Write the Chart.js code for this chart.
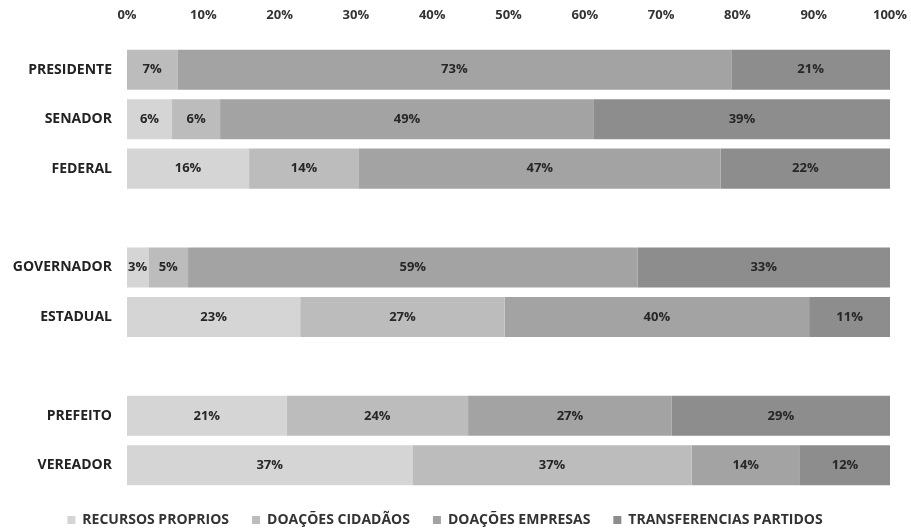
<!DOCTYPE html>
<html>
<head>
<meta charset="utf-8">
<script src="https://cdn.jsdelivr.net/npm/chart.js@4.4.1/dist/chart.umd.min.js"></script>
<style>
  html, body { margin: 0; padding: 0; background: #ffffff; }
  #wrap { width: 911px; height: 532px; }
</style>
</head>
<body>
<div id="wrap"><canvas id="c" width="911" height="532"></canvas></div>
<script>
const categories = ['PRESIDENTE', 'SENADOR', 'FEDERAL', '', 'GOVERNADOR', 'ESTADUAL', '', 'PREFEITO', 'VEREADOR'];
const seriesNames = ['RECURSOS PROPRIOS', 'DOAÇÕES CIDADÃOS', 'DOAÇÕES EMPRESAS', 'TRANSFERENCIAS PARTIDOS'];
const recursosProprios      = [0,    5.9,  16.0, null, 2.8,  22.7, null, 20.9, 37.4];
const doacoesCidadaos       = [6.6,  6.3,  14.4, null, 5.2,  26.8, null, 23.8, 36.6];
const doacoesEmpresas       = [72.6, 49.0, 47.4, null, 58.9, 39.9, null, 26.7, 14.2];
const transferenciasPartidos= [20.8, 38.8, 22.2, null, 33.1, 10.6, null, 28.6, 11.8];
const xTicks = [0, 10, 20, 30, 40, 50, 60, 70, 80, 90, 100];
const colors = ['#d5d5d5', '#bcbcbc', '#a3a3a3', '#8d8d8d'];

const FONT = '"Open Sans", "Liberation Sans", sans-serif';

const valueLabels = {
  id: 'valueLabels',
  afterDatasetsDraw(chart) {
    const ctx = chart.ctx;
    ctx.save();
    ctx.font = 'bold 13px ' + FONT;
    ctx.fillStyle = '#262626';
    ctx.textAlign = 'center';
    ctx.textBaseline = 'middle';
    chart.data.datasets.forEach((ds, di) => {
      const meta = chart.getDatasetMeta(di);
      meta.data.forEach((el, i) => {
        const v = ds.data[i];
        if (v === null || v === undefined || v <= 0) return;
        const p = el.getProps(['x', 'y', 'base'], true);
        ctx.fillText(Math.round(v) + '%', (p.x + p.base) / 2, p.y);
      });
    });
    ctx.restore();
  }
};

new Chart(document.getElementById('c'), {
  type: 'bar',
  data: {
    labels: categories,
    datasets: [
      { label: seriesNames[0], data: recursosProprios, backgroundColor: colors[0] },
      { label: seriesNames[1], data: doacoesCidadaos, backgroundColor: colors[1] },
      { label: seriesNames[2], data: doacoesEmpresas, backgroundColor: colors[2] },
      { label: seriesNames[3], data: transferenciasPartidos, backgroundColor: colors[3] }
    ]
  },
  options: {
    indexAxis: 'y',
    responsive: false,
    animation: false,
    layout: { padding: { left: 0, right: 21, top: 0, bottom: -5 } },
    datasets: { bar: { barPercentage: 0.81, categoryPercentage: 1.0, borderWidth: 0 } },
    scales: {
      x: {
        stacked: true,
        position: 'top',
        min: 0,
        max: 100,
        afterBuildTicks: (s) => { s.ticks = xTicks.map(v => ({ value: v })); },
        afterFit: (s) => { s.height = 45; s.paddingLeft = 0; s.paddingRight = 0; },
        grid: { display: false, drawTicks: false },
        border: { display: false },
        ticks: {
          padding: 22,
          color: '#333333',
          font: { family: FONT, size: 13, weight: 'bold' },
          maxRotation: 0,
          callback: (v) => v + '%'
        }
      },
      y: {
        stacked: true,
        afterFit: (s) => { s.width = 127; },
        grid: { display: false, drawTicks: false },
        border: { display: false },
        ticks: {
          padding: 15,
          color: '#222222',
          font: { family: FONT, size: 14, weight: 'bold' }
        }
      }
    },
    plugins: {
      legend: {
        position: 'bottom',
        labels: {
          boxWidth: 8,
          boxHeight: 8,
          padding: 23,
          color: '#333333',
          font: { family: FONT, size: 14, weight: 'bold' }
        }
      },
      tooltip: { enabled: false }
    }
  },
  plugins: [valueLabels]
});
</script>
</body>
</html>
